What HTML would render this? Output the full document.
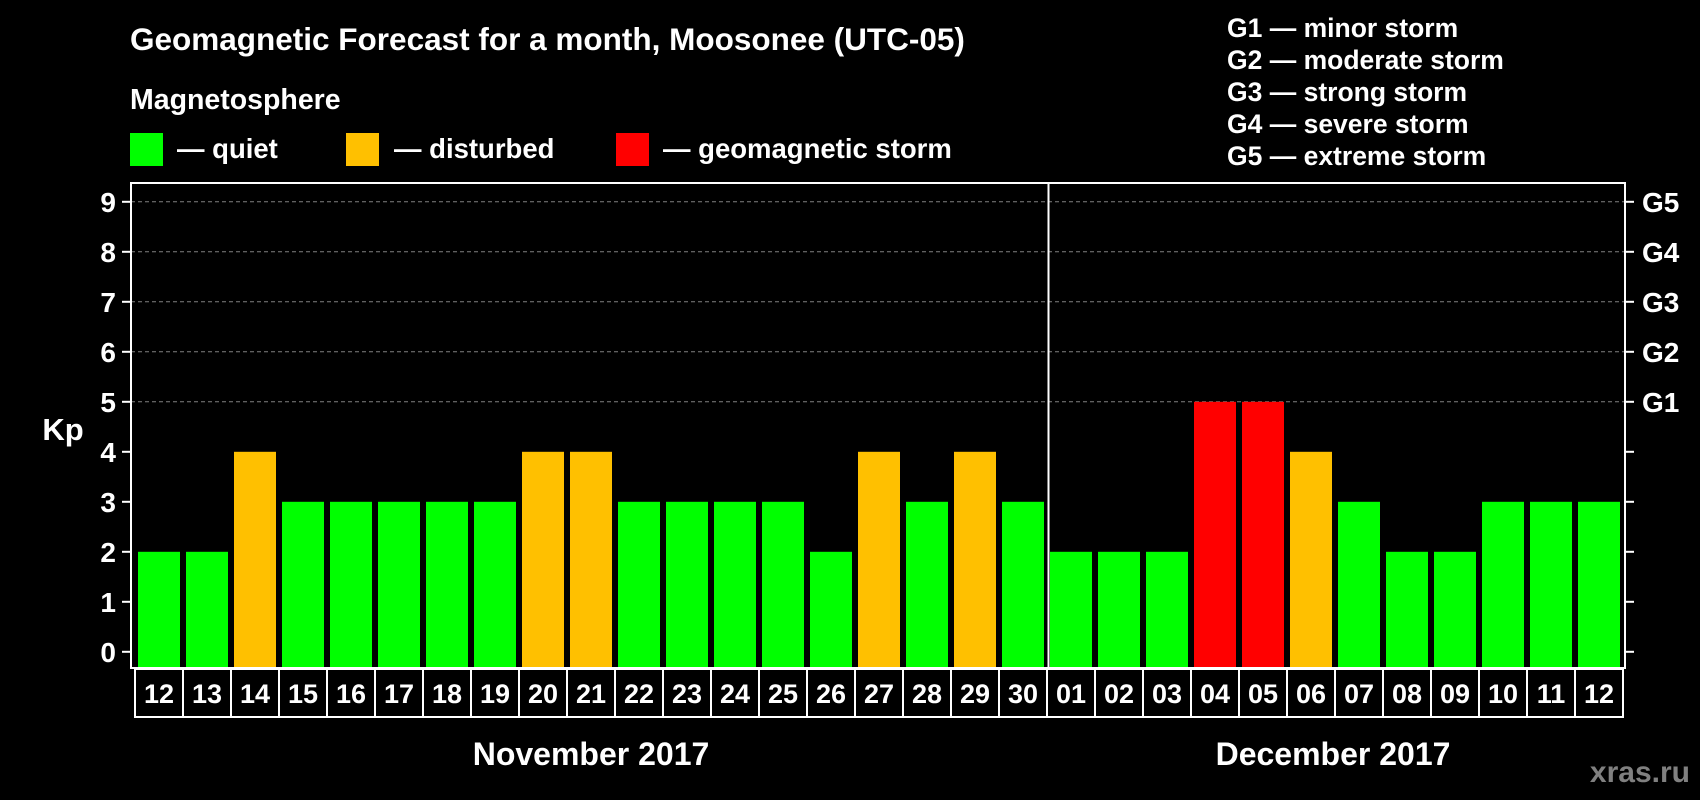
<!DOCTYPE html>
<html><head><meta charset="utf-8"><style>
html,body{margin:0;padding:0;background:#000;width:1700px;height:800px;overflow:hidden}
svg{display:block;font-family:"Liberation Sans",Arial,sans-serif;font-weight:bold}
</style></head><body>
<svg id="chart" width="1700" height="800" viewBox="0 0 1700 800">
<rect x="0" y="0" width="1700" height="800" fill="#000"/>
<text x="130" y="50" fill="#fff" font-size="31.5">Geomagnetic Forecast for a month, Moosonee (UTC-05)</text>
<text x="130" y="109" fill="#fff" font-size="28.5">Magnetosphere</text>
<g><rect x="130" y="133" width="33" height="33" fill="#00ff00"/><text x="177" y="158" fill="#fff" font-size="27.5">— quiet</text></g>
<g><rect x="346" y="133" width="33" height="33" fill="#ffc000"/><text x="394" y="158" fill="#fff" font-size="27.5">— disturbed</text></g>
<g><rect x="616" y="133" width="33" height="33" fill="#ff0000"/><text x="663" y="158" fill="#fff" font-size="27.5">— geomagnetic storm</text></g>
<g fill="#fff" font-size="26.5">
<text x="1227" y="37">G1 — minor storm</text>
<text x="1227" y="69">G2 — moderate storm</text>
<text x="1227" y="101">G3 — strong storm</text>
<text x="1227" y="133">G4 — severe storm</text>
<text x="1227" y="165">G5 — extreme storm</text>
</g>
<g id="grid"></g><g id="bars"></g><g id="axes"></g>
<text x="63" y="440" fill="#fff" font-size="31" text-anchor="middle">Kp</text>
<text x="591" y="765" fill="#fff" font-size="32" text-anchor="middle">November 2017</text>
<text x="1333" y="765" fill="#fff" font-size="32" text-anchor="middle">December 2017</text>
<text x="1690" y="782" fill="#808080" font-size="30" text-anchor="end">xras.ru</text>
</svg>
<script>
const days = ["12","13","14","15","16","17","18","19","20","21","22","23","24","25","26","27","28","29","30","01","02","03","04","05","06","07","08","09","10","11","12"];
const kpValues = [2,2,4,3,3,3,3,3,4,4,3,3,3,3,2,4,3,4,3,2,2,2,5,5,4,3,2,2,3,3,3];
const yTicks = [0,1,2,3,4,5,6,7,8,9];
const gLabels = ["G1","G2","G3","G4","G5"];
const monthBreakIndex = 19;

const NS = "http://www.w3.org/2000/svg";
const plotLeft = 131, plotRight = 1625, plotTop = 183, plotBottom = 668;
const y0 = 651.8, unit = 50;
const x0 = 135, pitch = 48, barW = 42;
function yS(v){ return y0 - v*unit; }
function xS(i){ return x0 + i*pitch; }
function mk(tag, attrs, parent){ const e=document.createElementNS(NS,tag); for(const k in attrs) e.setAttribute(k,attrs[k]); parent.appendChild(e); return e; }
const grid=document.getElementById('grid'), bars=document.getElementById('bars'), axes=document.getElementById('axes');

yTicks.forEach(v=>{
  if(v>=5){
    const l=mk('line',{x1:plotLeft,x2:plotRight,y1:yS(v),y2:yS(v),stroke:'#808080','stroke-width':1,'stroke-dasharray':'4,3'},grid);
    
    
  }
  const t=mk('line',{x1:plotLeft-9,x2:plotLeft,y1:yS(v),y2:yS(v),stroke:'#fff','stroke-width':2},axes);
  
  
  const t2=mk('line',{x1:plotRight,x2:plotRight+9,y1:yS(v),y2:yS(v),stroke:'#fff','stroke-width':2},axes);
  
  
  const lb=mk('text',{x:plotLeft-15,y:yS(v)+10,fill:'#fff','font-size':28,'text-anchor':'end'},axes);
  lb.textContent=v;
  
  
  if(v>=5){
    const g=mk('text',{x:plotRight+17,y:yS(v)+10,fill:'#fff','font-size':28},axes);
    g.textContent=gLabels[v-5];
    
    
  }
});

kpValues.forEach((v,i)=>{
  const c = v>=5 ? '#ff0000' : (v>=4 ? '#ffc000' : '#00ff00');
  const b=mk('rect',{x:xS(i)+3,y:yS(v),width:barW,height:plotBottom-yS(v),fill:c},bars);
  
  
  const cell=mk('rect',{x:xS(i),y:669,width:pitch,height:48,fill:'none',stroke:'#fff','stroke-width':2},axes);
  
  
  const dl=mk('text',{x:xS(i)+pitch/2,y:703,fill:'#fff','font-size':27,'text-anchor':'middle'},axes);
  dl.textContent=days[i];
  
  
});

const frame=mk('rect',{x:plotLeft,y:plotTop,width:plotRight-plotLeft,height:plotBottom-plotTop,fill:'none',stroke:'#fff','stroke-width':2},axes);


const sep=mk('line',{x1:xS(monthBreakIndex)+1.5,x2:xS(monthBreakIndex)+1.5,y1:plotTop,y2:plotBottom,stroke:'#fff','stroke-width':2},axes);


</script>
</body></html>
